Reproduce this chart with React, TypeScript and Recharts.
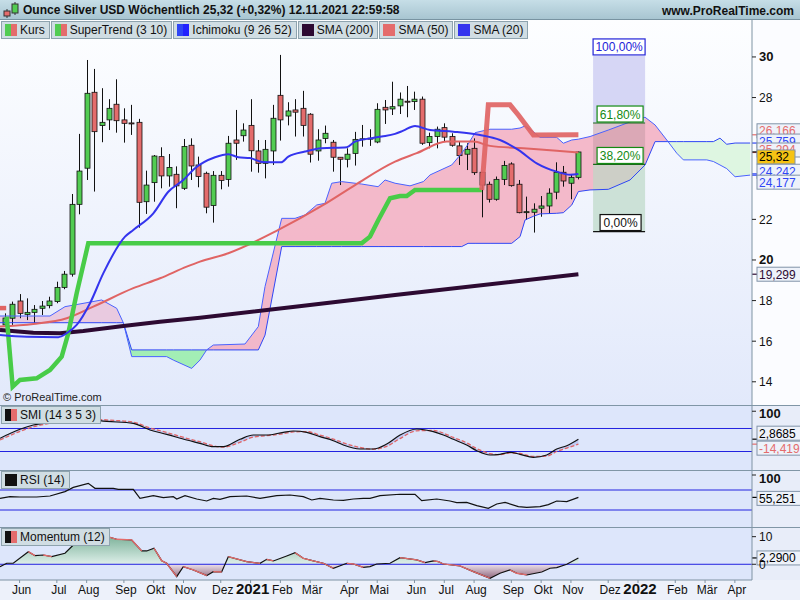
import React from 'react';
import { Area, Bar, ComposedChart, Line, ReferenceArea, ReferenceLine, XAxis, YAxis } from 'recharts';

// weekly candles, first week 18.05.2020, last week 08.11.2021 (index 0..77)
const opens = [16.8, 17.13, 17.98, 17.32, 17.42, 17.62, 17.75, 17.95, 18.65, 19.3, 22.74, 24.52, 28.26, 26.62, 26.9, 27.67, 26.9, 26.75, 26.78, 22.87, 23.81, 25.09, 24.14, 24.22, 23.53, 25.65, 24.68, 24.27, 22.68, 24.17, 23.97, 25.91, 26.12, 26.63, 25.37, 24.76, 25.37, 28.11, 27.09, 27.39, 27.47, 27.18, 25.37, 25.98, 25.8, 25.06, 24.96, 25.25, 25.94, 25.96, 25.81, 27.52, 27.44, 27.59, 27.82, 27.8, 27.92, 25.78, 26.08, 26.52, 26.08, 25.62, 25.21, 25.5, 24.32, 23.73, 22.99, 23.97, 24.73, 23.73, 22.36, 22.35, 22.55, 22.66, 23.34, 24.32, 23.78, 24.07];
const highs = [17.37, 17.95, 18.32, 18.11, 17.78, 17.98, 18.19, 18.93, 19.46, 23.25, 26.21, 29.85, 29.41, 28.46, 27.92, 28.9, 27.47, 27.64, 26.95, 24.4, 25.17, 25.55, 25.22, 24.61, 25.96, 25.99, 25.09, 24.35, 24.38, 24.38, 26.11, 27.39, 26.73, 27.92, 25.91, 25.91, 27.64, 30.1, 27.77, 27.92, 28.33, 27.23, 26.44, 26.62, 25.91, 25.06, 25.5, 26.31, 26.65, 26.44, 27.72, 27.88, 28.78, 28.25, 28.57, 28.29, 28.05, 26.27, 26.57, 26.73, 26.24, 25.83, 25.75, 25.99, 24.32, 23.86, 24.11, 24.88, 24.81, 23.94, 23.12, 22.79, 23.15, 23.53, 24.81, 24.63, 24.19, 25.34];
const lows = [16.72, 16.8, 17.13, 17.04, 16.88, 17.29, 17.62, 17.87, 18.56, 19.18, 22.25, 23.94, 23.37, 25.8, 26.4, 26.27, 25.78, 26.16, 21.59, 22.27, 22.87, 23.53, 23.61, 22.55, 23.45, 23.94, 23.58, 22.3, 21.84, 23.48, 23.61, 24.93, 25.83, 24.35, 24.3, 24.02, 24.68, 25.88, 26.63, 26.08, 26.08, 24.8, 24.89, 25.75, 24.35, 23.69, 24.56, 24.65, 25.58, 25.62, 25.75, 26.7, 27.14, 27.19, 27.03, 27.39, 25.67, 25.5, 25.5, 25.83, 25.58, 24.68, 24.43, 24.19, 22.1, 22.83, 22.92, 23.69, 23.61, 22.3, 21.97, 21.35, 22.13, 22.27, 22.99, 23.61, 22.99, 23.97];
const closes = [17.14, 17.82, 17.37, 17.42, 17.57, 17.73, 17.98, 18.65, 19.3, 22.74, 24.38, 28.21, 26.32, 26.78, 27.47, 26.86, 26.73, 26.73, 22.84, 23.69, 25.12, 24.14, 24.56, 23.65, 25.59, 24.63, 24.11, 22.6, 24.17, 23.92, 25.75, 25.75, 26.4, 25.38, 24.76, 25.45, 26.98, 26.9, 27.34, 27.28, 26.63, 25.21, 25.91, 26.24, 25.06, 24.96, 25.21, 25.94, 25.97, 26.0, 27.42, 27.39, 27.55, 27.92, 27.8, 27.92, 25.75, 26.08, 26.44, 26.05, 25.65, 25.14, 25.45, 24.3, 23.69, 22.99, 23.97, 24.65, 23.66, 22.33, 22.38, 22.5, 22.66, 23.29, 24.32, 23.89, 24.07, 25.32];

// indicator lines as [week index, value]
const sma20Pts = [[-0.63, 16.31], [2.95, 16.22], [7.19, 16.2], [8.32, 16.39], [9.66, 16.8], [11.45, 17.87], [13.23, 19.34], [16.15, 21.15], [17.26, 21.48], [19.95, 22.3], [21.96, 23.36], [23.97, 23.94], [25.54, 24.52], [28.23, 25.06], [30.01, 25.21], [31.36, 25.06], [32.93, 25.02], [34.5, 24.83], [37.09, 24.81], [38.07, 25.09], [40.31, 25.34], [42.55, 25.5], [45.91, 25.55], [47.02, 25.83], [49.26, 26.0], [50.6, 26.08], [52.39, 26.21], [53.5, 26.37], [55.07, 26.6], [57.09, 26.4], [60.21, 26.32], [63.8, 26.16], [66.48, 25.91], [68.94, 25.42], [71.41, 24.76], [74.09, 24.35], [75.88, 24.2], [77, 24.24]];
const sma50Pts = [[-0.63, 16.72], [3.84, 16.85], [8.32, 17.13], [11.89, 17.7], [17.26, 18.61], [20.85, 19.1], [24.43, 19.67], [26.21, 19.92], [30.01, 20.33], [36.73, 21.48], [42.77, 22.71], [47.02, 23.69], [52.39, 24.84], [55.3, 25.26], [59.33, 25.83], [62.9, 25.83], [65.14, 25.62], [69.61, 25.5], [74.09, 25.38], [77, 25.29]];
const sma200Pts = [[-0.63, 16.55], [3.84, 16.42], [7.42, 16.39], [10.55, 16.5], [15.92, 16.75], [20.85, 16.96], [26.21, 17.16], [38.97, 17.7], [52.39, 18.28], [77, 19.3]];
const stUpPts = [[0.27, 17.21], [1.07, 13.76], [2.05, 14.09], [4.29, 14.17], [6.08, 14.58], [7.65, 15.24], [8.54, 16.39], [9.66, 18.36], [11.22, 20.82], [47.92, 20.82], [49.03, 21.15], [50.15, 21.97], [51.72, 23.04], [53.06, 23.15], [53.96, 23.15], [55.07, 23.45], [64.03, 23.45]];
const stDownEarly = [[-0.63, 17.63], [0.2, 17.63]];
const stDownPts = [[64.03, 23.45], [64.91, 27.64], [67.82, 27.64], [68.94, 27.14], [70.96, 26.16], [77, 26.17]];

// Ichimoku cloud (senkou span A / B), projected 26 weeks ahead
const cloudIdx = [-0.63, 6.08, 8.09, 13.02, 15.03, 15.92, 17.05, 21.74, 22.63, 25.1, 26.21, 27.11, 28.0, 32.25, 34.04, 34.94, 37.18, 38.97, 40.31, 41.88, 42.99, 43.89, 45.23, 47.92, 50.11, 51.05, 52.39, 54.4, 56.19, 57.09, 60.0, 61.34, 62.19, 63.13, 65.14, 68.05, 69.17, 69.84, 70.95, 71.85, 74.09, 74.98, 76.11, 77.0, 78.56, 81.02, 83.93, 85.95, 87.29, 89.03, 90.2, 91.09, 94.23, 95.12, 96.0, 96.91, 98.03, 100.05];
const spanA = [16.91, 16.91, 16.91, 16.91, 16.91, 16.91, 15.57, 15.57, 15.57, 15.57, 15.57, 15.57, 15.57, 15.57, 15.57, 16.3, 20.66, 20.66, 20.66, 20.66, 20.66, 20.66, 20.66, 20.66, 20.66, 20.66, 20.66, 20.66, 20.66, 20.66, 20.66, 20.66, 20.82, 20.82, 20.82, 20.82, 21.15, 21.97, 22.15, 22.27, 22.3, 22.33, 22.71, 23.37, 23.45, 23.48, 23.94, 24.68, 25.83, 25.83, 25.83, 25.83, 25.83, 25.83, 26.0, 25.7, 25.76, 25.76];
const spanB = [17.24, 17.24, 17.7, 18.03, 17.62, 16.91, 15.24, 15.24, 15.07, 14.66, 15.07, 15.57, 15.81, 15.86, 16.72, 18.69, 22.05, 22.05, 22.22, 22.71, 22.79, 23.78, 23.86, 23.74, 23.61, 23.94, 23.78, 23.65, 23.86, 24.19, 24.68, 25.26, 25.7, 26.27, 26.44, 26.44, 26.5, 26.6, 26.32, 26.04, 26.04, 25.75, 25.91, 25.95, 26.08, 26.4, 26.8, 27.03, 26.65, 25.83, 25.26, 24.93, 24.93, 24.85, 24.68, 24.5, 24.1, 24.18];
const cloudCross = [15.92, 27.11, 89.03];

// Fibonacci retracement
const fibHigh = 30.05;
const fibLow = 21.4;
const fibFrom = 78.97;
const fibTo = 85.95;
const fibLevels = [1, 0.618, 0.382, 0];
const fibTexts = ['100,00%', '61,80%', '38,20%', '0,00%'];

// lower panels
const smiIdx = [-0.63, 2.05, 3.84, 5.64, 8.77, 11.22, 12.79, 17.26, 19.5, 21.74, 24.43, 26.21, 28.0, 29.34, 31.58, 33.37, 35.17, 37.4, 38.74, 40.54, 42.32, 44.11, 45.45, 47.69, 49.48, 51.28, 53.06, 55.3, 57.53, 58.87, 60.21, 62.0, 63.36, 65.14, 66.48, 67.82, 69.17, 70.95, 72.75, 74.09, 75.44, 77];
const smiValues = [5.9, 37.2, 52.2, 60.2, 80, 75.5, 67.1, 58.1, 34.8, 19.8, 0, -11.5, -23.3, -23.3, 2.4, 17.4, 17.4, 26.8, 31.3, 26.8, 11.5, -2.4, -17.4, -31.3, -31.3, -13.9, 17.4, 38.3, 28.9, 17.4, 2.4, -17.4, -37.2, -52.2, -49.7, -42.8, -49.7, -60.2, -52.2, -31.3, -19.8, 2.87];
const smiSignal = [0, 30, 46, 56, 76, 78, 72, 62, 42, 26, 6, -6, -20, -25, -8, 10, 15, 22, 28, 29, 17, 3, -10, -26, -32, -22, 5, 32, 33, 24, 9, -10, -30, -47, -51, -45, -47, -57, -56, -40, -28, -14.42];
const rsiPts = [[-0.63, 53.4], [0.71, 56.7], [2.05, 56], [4.29, 56], [6.08, 58], [8.09, 66.7], [9.21, 75.3], [11.22, 83.3], [12.12, 73.3], [14.58, 73.3], [15.25, 71.3], [17.26, 71.3], [18.16, 53.3], [19.95, 58.7], [21.29, 54.7], [22.63, 56.7], [23.09, 52], [24.2, 58.7], [25.77, 52], [27.11, 48], [28.0, 53.3], [28.9, 51.3], [30.24, 56.7], [32.48, 58], [34.27, 53.3], [36.51, 58.7], [38.3, 60], [40.08, 56.7], [41.21, 50], [42.32, 53.3], [44.11, 50], [45.45, 49.3], [46.79, 52], [48.13, 53.3], [49.03, 53.3], [50.38, 58.7], [53.06, 61.5], [55.07, 61.3], [55.97, 48.7], [57.99, 52], [59.77, 48], [60.67, 44.7], [62.0, 45.3], [63.36, 38.7], [64.91, 33.3], [66.04, 42], [67.16, 45.3], [68.94, 36.7], [70.07, 35.3], [71.85, 36.7], [72.97, 40.7], [74.09, 48], [75.44, 46.7], [77, 55.25]];
const momPts = [[-0.63, -0.87], [0.27, 0.36], [1.15, 0.36], [3.17, 4.57], [4.07, 3.12], [5.18, 3.36], [6.31, 2.75], [8.09, 3.99], [9.21, 6.99], [10.11, 9.42], [12.35, 8.55], [13.23, 8.55], [14.13, 9.78], [15.03, 9.06], [17.05, 8.8], [18.39, 4.82], [19.06, 4.82], [20.04, 5.8], [21.07, 1.3], [21.74, 0.36], [23.09, -4.5], [23.97, -0.87], [25.32, -2.07], [27.11, -4.13], [28.0, -2.68], [29.12, -2.8], [30.01, 2.75], [32.48, 0.94], [34.27, 0.36], [35.17, 1.8], [36.06, 1.2], [37.85, 3.0], [38.97, 4.2], [40.08, 2.17], [41.43, 1.2], [42.77, 0.36], [44.11, -1.45], [45.91, 0.36], [46.79, 0.1], [48.13, -1.1], [49.03, -0.87], [49.93, 0.1], [51.72, 0.36], [53.06, 2.4], [55.3, 1.56], [56.42, 0.58], [57.53, 1.2], [58.2, 0.94], [58.87, 0.1], [61.12, -0.62], [62.9, -2.68], [65.14, -5.07], [66.48, -3.26], [67.82, -2.07], [68.72, -3.26], [70.07, -3.88], [72.08, -2.8], [73.19, -1.45], [74.09, -1.2], [75.44, 0], [77, 2.29]];

// axes
const monthIdx = [2, 7, 11, 16, 20, 24, 29, 33, 37, 41, 46, 50, 55, 59, 63, 68, 72, 76, 81, 85, 90, 94, 98];
const monthLabels = ['Jun', 'Jul', 'Aug', 'Sep', 'Okt', 'Nov', 'Dez', '2021', 'Feb', 'Mär', 'Apr', 'Mai', 'Jun', 'Jul', 'Aug', 'Sep', 'Okt', 'Nov', 'Dez', '2022', 'Feb', 'Mär', 'Apr'];
const priceTicks = [14, 16, 18, 20, 22, 28, 30];

// last values shown on the right axis
const lastValues = [26.166, 25.759, 25.294, 25.32, 24.242, 24.177, 19.299];
const lastTexts = ['26,166', '25,759', '25,294', '25,32', '24,242', '24,177', '19,299'];
const smiLast = [2.8685, -14.419];
const smiLastTexts = ['2,8685', '-14,419'];
const rsiLast = 55.251;
const momLast = 2.29;

const FONT = '"Liberation Sans", Arial, sans-serif';
const X_DOMAIN = [-0.63, 100.3];
const GREEN = '#52cc52';
const RED = '#e46c6c';
const BLUE = '#2f46f5';

const pts = (a) => a.map(([i, v]) => ({ i, v }));
const candles = opens.map((o, i) => ({ i, o, h: highs[i], l: lows[i], c: closes[i] }));
const cloudRows = cloudIdx.map((i, k) => ({ i, a: spanA[k], b: spanB[k] }));
const cloudBounds = [X_DOMAIN[0], ...cloudCross, 101];
const cloudFills = ['#e9c3da', '#97efa8', '#f3aec1', '#d9f6dc'];
const fibPrice = (f) => fibLow + f * (fibHigh - fibLow);
const smiRows = smiIdx.map((i, k) => ({ i, s: smiValues[k], g: smiSignal[k] }));
const momRows = pts(momPts);

// momentum line is black while rising and red while falling
const momFalling = [];
{
  let run = null;
  for (let k = 1; k < momRows.length; k++) {
    if (momRows[k].v < momRows[k - 1].v) {
      if (!run) run = [momRows[k - 1]];
      run.push(momRows[k]);
    } else if (run) {
      momFalling.push(run);
      run = null;
    }
  }
  if (run) momFalling.push(run);
}

function Candle(props) {
  const { x, y, width, height, payload } = props;
  if (!payload || x == null) return null;
  const { o, h, l, c } = payload;
  const top = Math.min(y, y + height);
  const hh = Math.abs(height);
  const px = (v) => top + ((h - v) / (h - l || 1)) * hh;
  const cx = Math.round(x + width / 2) + 0.5;
  const bTop = px(Math.max(o, c));
  const bBot = px(Math.min(o, c));
  return (
    <g>
      <line x1={cx} x2={cx} y1={top} y2={top + hh} stroke="#111" strokeWidth={1} />
      <rect x={cx - 2.5} y={bTop} width={5} height={Math.max(bBot - bTop, 1)} fill={c >= o ? GREEN : RED} stroke="#111" strokeWidth={0.8} />
    </g>
  );
}

function Tag(props) {
  const { viewBox, text, color, bg = '#eef2fa', dy = 0 } = props;
  if (!viewBox) return null;
  const x = viewBox.x + viewBox.width;
  const y = viewBox.y;
  const w = text.length * 6.8 + 4;
  return (
    <g>
      <line x1={x} x2={x + 5} y1={y} y2={y} stroke={color} strokeWidth={1.2} />
      <rect x={x + 5} y={y + dy - 7} width={w} height={14} fill={bg} stroke="#8193a8" />
      <text x={x + 7} y={y + dy + 4.5} fontSize={12} fontFamily={FONT} fill={color}>{text}</text>
    </g>
  );
}

function FibTag(props) {
  const { viewBox, text, color, inL = 0, inR = 0 } = props;
  if (!viewBox) return null;
  const x = viewBox.x + inL;
  const w = viewBox.width - inL - inR;
  return (
    <g>
      <rect x={x} y={viewBox.y - 17} width={w} height={16} fill="#fff" stroke={color} strokeWidth={1.2} />
      <text x={x + w / 2} y={viewBox.y - 4.5} textAnchor="middle" fontSize={12} fontFamily={FONT} fill={color}>{text}</text>
    </g>
  );
}

const AxisTick = (props) => {
  const { x, y, payload, boldIf, dy = 0 } = props;
  const bold = boldIf ? boldIf(payload.value) : false;
  return (
    <text x={x + 1} y={y + 4.5 + dy} fontSize={bold ? 13 : 12} fontWeight={bold ? 700 : 400} fontFamily={FONT} fill="#111">{payload.value}</text>
  );
};

const MonthTick = (props) => {
  const { x, y, payload } = props;
  const lab = monthLabels[monthIdx.indexOf(payload.value)] || '';
  const year = /^\d{4}$/.test(lab);
  return (
    <text x={x + 2} y={y + 9} textAnchor="middle" fontSize={year ? 15 : 12} fontWeight={year ? 700 : 400} fontFamily={FONT} fill="#111">{lab}</text>
  );
};

const tagColors = [RED, BLUE, RED, '#000', BLUE, BLUE, '#2d0a32'];
const tagNudge = [-4, -2, -2.5, 5, -2.6, 7, 0];

function Swatch({ a, b }) {
  return (
    <span style={{ display: 'inline-flex', marginRight: 3, verticalAlign: 'middle' }}>
      <span style={{ width: 6, height: 12, background: a }} />
      <span style={{ width: 6, height: 12, background: b }} />
    </span>
  );
}

const legendBox = {
  display: 'inline-flex', alignItems: 'center', height: 16, padding: '0 4px 0 3px', background: '#d0dde3',
  border: '1px solid #8ea3ae', fontSize: 12, color: '#111', marginRight: 1, whiteSpace: 'nowrap',
};

function PanelLegend({ top, label, a, b }) {
  return (
    <div style={{ position: 'absolute', left: 1, top, ...legendBox }}>
      <Swatch a={a} b={b} />{label}
    </div>
  );
}

export default function App() {
  const yAx = { orientation: 'right', width: 48, allowDataOverflow: true, axisLine: { stroke: '#7f93a3' }, tickLine: { stroke: '#222' }, tickSize: 4, interval: 0 };
  return (
    <div style={{ position: 'relative', width: 800, height: 600, overflow: 'hidden', background: '#edf1fa', fontFamily: FONT }}>
      <style>{'body{margin:0}'}</style>

      {/* panel backgrounds */}
      <div style={{ position: 'absolute', left: 0, top: 20, width: 752, height: 385, background: 'linear-gradient(#fdfeff, #e2e9fb)' }} />
      <div style={{ position: 'absolute', left: 752, top: 20, width: 48, height: 385, background: '#fbfcff' }} />
      <div style={{ position: 'absolute', left: 0, top: 405, width: 752, height: 175, background: '#dde6fb' }} />
      <div style={{ position: 'absolute', left: 752, top: 405, width: 48, height: 175, background: '#e8edf9' }} />

      {/* main price panel */}
      <div style={{ position: 'absolute', left: 0, top: 20 }}>
        <ComposedChart width={800} height={385} data={candles} margin={{ top: 0, right: 0, bottom: 0, left: 0 }}>
          <XAxis dataKey="i" type="number" domain={X_DOMAIN} hide allowDataOverflow />
          <YAxis {...yAx} domain={[12.857, 31.82]} ticks={priceTicks} tick={<AxisTick boldIf={(v) => v % 10 === 0} />} />
          {cloudFills.map((f, k) => (
            <Area
              key={'cl' + k}
              data={cloudRows.filter((r) => r.i >= cloudBounds[k] && r.i <= cloudBounds[k + 1])}
              dataKey={(d) => [d.a, d.b]}
              type="linear"
              stroke="none"
              fill={f}
              fillOpacity={0.85}
              isAnimationActive={false}
            />
          ))}
          <Line data={cloudRows} dataKey="a" type="linear" stroke={BLUE} strokeWidth={1} dot={false} isAnimationActive={false} />
          <Line data={cloudRows} dataKey="b" type="linear" stroke="#4a62ff" strokeWidth={1} dot={false} isAnimationActive={false} />
          <ReferenceArea x1={fibFrom} x2={fibTo} y1={fibPrice(0.618)} y2={fibPrice(1)} fill="#c9c9f1" fillOpacity={0.75} stroke="none" />
          <ReferenceArea x1={fibFrom} x2={fibTo} y1={fibPrice(0.382)} y2={fibPrice(0.618)} fill="#c79aa6" fillOpacity={0.55} stroke="none" />
          <ReferenceArea x1={fibFrom} x2={fibTo} y1={fibPrice(0)} y2={fibPrice(0.382)} fill="#bcd9c6" fillOpacity={0.7} stroke="none" />
          <Line data={pts(sma200Pts)} dataKey="v" type="linear" stroke="#2d0a32" strokeWidth={4} dot={false} isAnimationActive={false} />
          <Line data={pts(sma50Pts)} dataKey="v" type="monotone" stroke="#e06464" strokeWidth={2} dot={false} isAnimationActive={false} />
          <Bar dataKey={(d) => [d.l, d.h]} barSize={5} shape={(p) => <Candle {...p} />} isAnimationActive={false} />
          <Line data={pts(stUpPts)} dataKey="v" type="linear" stroke="#48cc48" strokeWidth={4.5} dot={false} isAnimationActive={false} />
          <Line data={pts(stDownEarly)} dataKey="v" type="linear" stroke="#e06464" strokeWidth={4.5} dot={false} isAnimationActive={false} />
          <Line data={pts(stDownPts)} dataKey="v" type="linear" stroke="#e06464" strokeOpacity={0.92} strokeWidth={5} dot={false} isAnimationActive={false} />
          <Line data={pts(sma20Pts)} dataKey="v" type="monotone" stroke="#3434ee" strokeWidth={2} dot={false} isAnimationActive={false} />
          {fibLevels.map((f, k) => (
            <ReferenceLine
              key={'fib' + k}
              segment={[{ x: fibFrom, y: fibPrice(f) }, { x: fibTo, y: fibPrice(f) }]}
              stroke={k === 0 ? 'none' : k === 3 ? '#111' : '#1a6b1a'}
              strokeWidth={1.2}
              label={<FibTag text={fibTexts[k]} color={k === 0 ? '#2323d8' : k === 3 ? '#111' : '#138a13'} inL={k === 0 ? 0 : k === 3 ? 7 : 4} inR={k === 0 ? 0 : k === 3 ? 4 : 2} />}
            />
          ))}
          {lastValues.map((v, k) => (
            <ReferenceLine
              key={'tag' + k}
              y={v}
              stroke="none"
              label={<Tag text={lastTexts[k]} color={tagColors[k]} dy={tagNudge[k]} bg={k === 3 ? '#f6c314' : '#eef2fa'} />}
            />
          ))}
        </ComposedChart>
      </div>

      {/* SMI */}
      <div style={{ position: 'absolute', left: 0, top: 405 }}>
        <ComposedChart width={800} height={65} data={smiRows} margin={{ top: 0, right: 0, bottom: 0, left: 0 }}>
          <XAxis dataKey="i" type="number" domain={X_DOMAIN} hide allowDataOverflow />
          <YAxis {...yAx} domain={[-104.3, 121.7]} ticks={[100]} tick={<AxisTick boldIf={() => true} dy={2} />} />
          <Area dataKey={(d) => [d.s, d.g]} type="monotone" stroke="none" fill="#b3bdf0" fillOpacity={0.7} isAnimationActive={false} />
          <ReferenceLine y={40} stroke="#2222e0" />
          <ReferenceLine y={-40} stroke="#2222e0" />
          <Line dataKey="g" type="monotone" stroke="#e06464" strokeDasharray="4 2" strokeWidth={1.3} dot={false} isAnimationActive={false} />
          <Line dataKey="s" type="monotone" stroke="#111" strokeWidth={1.2} dot={false} isAnimationActive={false} />
          <ReferenceLine y={smiLast[0]} stroke="none" label={<Tag text={smiLastTexts[0]} color="#000" dy={-6} />} />
          <ReferenceLine y={smiLast[1]} stroke="none" label={<Tag text={smiLastTexts[1]} color={RED} dy={4} />} />
        </ComposedChart>
      </div>

      {/* RSI */}
      <div style={{ position: 'absolute', left: 0, top: 470 }}>
        <ComposedChart width={800} height={57} data={pts(rsiPts)} margin={{ top: 0, right: 0, bottom: 0, left: 0 }}>
          <XAxis dataKey="i" type="number" domain={X_DOMAIN} hide allowDataOverflow />
          <YAxis {...yAx} domain={[-4, 110]} ticks={[100]} tick={<AxisTick boldIf={() => true} dy={3} />} />
          <ReferenceLine y={70} stroke="#2222e0" />
          <ReferenceLine y={30} stroke="#2222e0" />
          <Line dataKey="v" type="linear" stroke="#111" strokeWidth={1.2} dot={false} isAnimationActive={false} />
          <ReferenceLine y={rsiLast} stroke="none" label={<Tag text="55,251" color="#000" dy={1} />} />
        </ComposedChart>
      </div>

      {/* Momentum + time axis */}
      <div style={{ position: 'absolute', left: 0, top: 527 }}>
        <ComposedChart width={800} height={73} data={momRows} margin={{ top: 0, right: 0, bottom: 0, left: 0 }}>
          <defs>
            <linearGradient id="momFill" gradientUnits="userSpaceOnUse" x1="0" y1="0" x2="0" y2="53">
              <stop offset="0" stopColor="#4f9672" />
              <stop offset="0.69" stopColor="#dcefe6" />
              <stop offset="0.71" stopColor="#ecdde6" />
              <stop offset="1" stopColor="#7a4a62" />
            </linearGradient>
          </defs>
          <XAxis dataKey="i" type="number" domain={X_DOMAIN} allowDataOverflow ticks={monthIdx} interval={0} height={20} tick={<MonthTick />} tickSize={3} tickLine={{ stroke: '#7f93a3' }} axisLine={{ stroke: '#7f93a3' }} />
          <YAxis {...yAx} domain={[-5.7, 13.5]} ticks={[0, 10]} tick={<AxisTick />} />
          <Area dataKey="v" type="linear" baseValue={0} stroke="none" fill="url(#momFill)" fillOpacity={0.9} isAnimationActive={false} />
          <ReferenceLine y={0} stroke="#2222e0" />
          <Line dataKey="v" type="linear" stroke="#111" strokeWidth={1.2} dot={false} isAnimationActive={false} />
          {momFalling.map((run, k) => (
            <Line key={'mf' + k} data={run} dataKey="v" type="linear" stroke="#e46c6c" strokeWidth={1.3} dot={false} isAnimationActive={false} />
          ))}
          <ReferenceLine y={momLast} stroke="none" label={<Tag text="2,2900" color="#000" />} />
        </ComposedChart>
      </div>

      {/* separators */}
      {[405, 470, 527].map((t) => (
        <div key={t} style={{ position: 'absolute', left: 0, top: t, width: 800, height: 1, background: '#8096a6' }} />
      ))}

      {/* header */}
      <div style={{ position: 'absolute', left: 0, top: 0, width: 800, height: 19, background: 'linear-gradient(#c6dee7, #a8c5d1)', borderBottom: '1px solid #7893a1' }}>
        <svg width={20} height={19} style={{ position: 'absolute', left: 2, top: 0 }}>
          <line x1={5} x2={5} y1={9} y2={18} stroke="#333" />
          <rect x={2} y={11} width={6} height={5} fill={RED} stroke="#333" />
          <line x1={13} x2={13} y1={2} y2={15} stroke="#333" />
          <rect x={10} y={4} width={6} height={9} fill={GREEN} stroke="#333" />
        </svg>
        <div style={{ position: 'absolute', left: 23, top: 3, fontSize: 12, fontWeight: 700, color: '#111' }}>
          Ounce Silver USD Wöchentlich 25,32 (+0,32%) 12.11.2021 22:59:58
        </div>
        <div style={{ position: 'absolute', right: 6, top: 4, fontSize: 12, fontWeight: 700, color: '#111' }}>www.ProRealTime.com</div>
      </div>

      {/* legend */}
      <div style={{ position: 'absolute', left: 1, top: 21, display: 'flex' }}>
        <div style={legendBox}><Swatch a={GREEN} b={RED} />Kurs</div>
        <div style={legendBox}><Swatch a={GREEN} b={RED} />SuperTrend (3 10)</div>
        <div style={legendBox}><Swatch a="#2f46f5" b="#2222ff" />Ichimoku (9 26 52)</div>
        <div style={legendBox}><Swatch a="#2d0a32" b="#2d0a32" />SMA (200)</div>
        <div style={legendBox}><Swatch a={RED} b={RED} />SMA (50)</div>
        <div style={legendBox}><Swatch a="#3434ee" b="#3434ee" />SMA (20)</div>
      </div>

      <div style={{ position: 'absolute', left: 3, top: 391, fontSize: 11, color: '#222' }}>© ProRealTime.com</div>

      <PanelLegend top={406} label="SMI (14 3 5 3)" a="#111" b={RED} />
      <PanelLegend top={471} label="RSI (14)" a="#111" b="#111" />
      <PanelLegend top={528} label="Momentum (12)" a="#111" b={RED} />
    </div>
  );
}
